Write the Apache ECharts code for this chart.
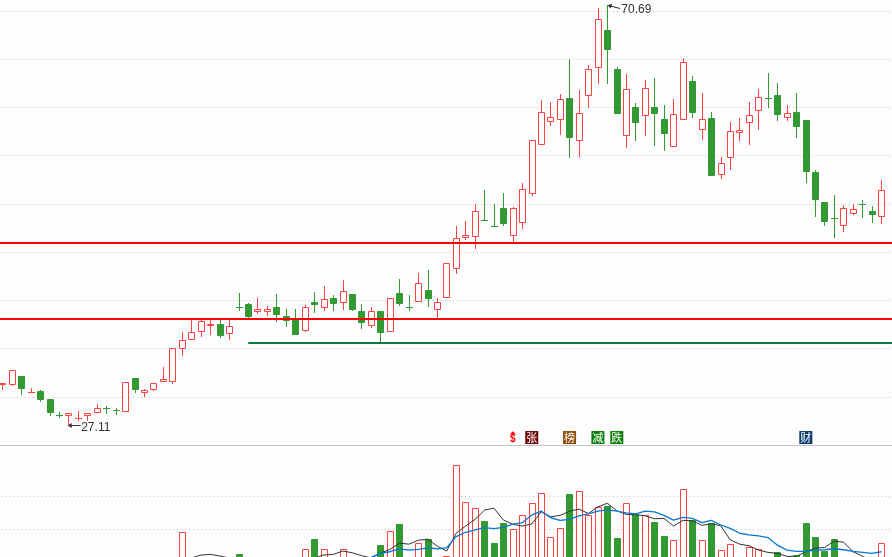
<!DOCTYPE html>
<html>
<head>
<meta charset="utf-8">
<title>K线</title>
<script src="https://cdn.jsdelivr.net/npm/echarts@6/dist/echarts.min.js"></script>
<style>
html,body{margin:0;padding:0;background:#fdfdfd;overflow:hidden}
#chart{width:892px;height:557px}
</style>
</head>
<body>
<div id="chart"></div>
<script>
// Daily prices, oldest first
const opens = [31.26,31.33,32.23,30.52,30.67,29.84,28.20,28.05,27.83,28.05,
28.36,28.89,28.71,28.47,32.02,30.5,30.81,31.58,31.58,35,
35.93,36.76,37.38,37.59,36.55,39.36,39.69,38.83,38.83,39.35,
38.45,38.13,36.92,39.9,39.24,40.31,39.76,40.73,38.96,37.41,
38.96,36.82,40.83,39.36,39.93,41.14,39.1,40.28,43.35,46.58,
46.6,48.37,47.81,49.64,46.71,48.05,51.06,56.14,58.52,58.73,
61.04,56.55,61.21,64.11,68.08,64.04,57.13,60.1,59.2,60.1,
58.86,55.99,58.79,62.8,57.75,58.96,53.09,54.85,57.44,58.48,
59.72,61.01,61.35,59,59.59,58.76,53.37,50.26,48.58,47.8,
49.05,50.03,49.33,48.74];
const closes = [31.47,32.82,30.91,30.54,29.77,28.42,28.18,28.36,27.85,28.36,
28.88,28.87,28.69,31.58,30.78,30.75,31.47,31.89,35.1,35.93,
36.76,37.9,37.59,36.4,37.38,39.34,38.37,39.14,39.14,38.58,
37.96,36.51,39.35,39.59,40.18,39.69,41,39.07,37.72,38.93,
36.68,40.28,39.69,39.34,41.83,40.21,39.87,43.91,46.5,46.81,
49.3,48.35,47.79,48.01,49.61,51.58,56.65,59.55,59.04,60.9,
56.92,59.45,64.01,69.19,66.01,59.38,61.94,58.45,62.04,59.38,
57.31,59.35,64.74,59.48,58.83,52.95,54.27,57.59,57.69,59.24,
61.11,60.99,59.28,59.45,58.03,53.37,50.47,48.19,48.56,49.61,
49.5,50.01,48.91,51.47];
const lows = [30.78,31.19,30.26,30.52,29.56,28.11,27.91,27.11,27.56,27.6,
28.36,28.29,28.22,28.47,30.47,30.05,30.7,31.58,31.4,34.3,
35.93,36.3,36.51,36.2,35.99,39,38.24,38.68,38.48,37.86,
37.34,36.51,36.82,38.76,39,38.96,39.07,38.96,37.1,37.2,
35.68,36.82,39.48,38.96,39.93,39.38,38.17,40.28,42.8,46.32,
45.39,48.35,47.67,47.77,46.01,47.43,50.91,56.14,58.13,57.2,
54.82,54.95,60,62.49,62.49,59.38,55.86,56.58,57.1,56.06,
55.54,55.99,58.79,58.96,56.68,52.95,52.64,53.58,56.58,56.17,
57.72,60,58.65,58.65,56.89,52.23,48.71,47.77,46.53,47.15,
48.91,48.6,48.08,47.98];
const highs = [31.47,32.82,32.23,31.02,30.78,29.84,28.5,28.36,28.6,28.36,
29.33,29.09,28.94,31.58,32.02,30.88,31.47,33.16,35.1,36.79,
38.13,38.13,38.13,38.03,38.13,40.8,39.79,40.31,39.48,40.69,
39.14,39.17,39.55,40.93,41.55,40.62,42.18,40.73,39.69,39.38,
38.96,40.28,42.28,40.62,42.9,43.21,40.28,43.91,47.77,48.29,
50.05,51.5,50.05,51.19,49.71,52.23,56.65,60.83,60.62,61.45,
65.08,61.87,64.46,70.36,70.69,64.25,63.52,60.52,62.9,63.11,
60.31,60.93,65.15,63.32,61.56,59.59,54.92,58.55,58.96,60.62,
61.97,63.63,62.59,60.31,61.56,58.76,53.58,50.26,50.98,49.95,
50.05,50.47,49.85,52.54];

// Daily volume and its two moving averages
const volumes = [14,16,15,9,13,14,8,9,7,9,
10,8,7,19,18,12,13,13,20,29.1,
17,15,14,16,15,22.5,19,13,10,16,
17,20,23.9,27.1,23.9,20,23.9,19,20,19,
25.2,29.4,31.6,14,25.8,27.1,15,21.8,49.4,38.2,
36.4,32.5,25.8,31.9,30,34.2,37.9,40.9,27.6,30.3,
40.7,41.5,34.2,36.7,37.1,27.4,37.9,34.5,34.2,32.2,
28,26.7,42.1,32.8,26.7,31.8,23.6,25.5,17,24.5,
23.9,18,23,15,22.1,31.9,27.7,23.5,27.1,20,
13,12,14,25.8];
const volMa5 = [13,14,14,13,13,13,12,11,11,11,
10,10,10,12,13,13,14,16,17,19,
21.3,22.2,22.4,21.9,21.3,20.5,20,19.5,19,18.5,
19,20,20.8,21.3,22.2,22.4,23.4,22.9,22,21.3,
22.8,23.9,25.8,25.5,26.7,27,24.9,23.4,28.8,31,
33,35.8,36.4,32.8,31.5,31,31.6,35.3,33.8,34.2,
35.5,36.1,34.8,36.8,37.9,35.6,34.5,34.4,34.1,33.2,
33.3,31,32.7,32.6,31.2,31.7,31.1,26.8,25.5,25,
23.7,23,22.7,21.8,21.8,23.2,24.3,24.5,26.4,26.1,
23.2,21.8,20.5,20.8];
const volMa10 = [15,15,15,14,14,14,13,13,12,12,
12,12,12,12,12,12,13,13,14,15,
16,17,18,18,19,19,19.5,20,20,20,
20,20,20.5,20.5,21,21,21,21,21,21.5,
22.7,23.2,24.1,23.7,23.9,24.4,24.1,24.4,27.8,29.1,
29.8,30.5,30.2,30.6,31.6,32,34.3,35.5,33.5,32.7,
33,34.1,34.7,35.5,35.9,35.5,35,34.7,35.5,35.3,
34.2,32.8,33.6,33.3,32,32.7,31.3,30.3,28.8,28.3,
28,27.5,25.2,23.7,23.3,23.3,23.7,23.8,24.1,23.8,
23.3,23,22.7,23.2];

// Support and resistance levels, and where the lower support starts
const resistanceLevel = 46.04;
const supportLevel = 38.13;
const lowerSupportLevel = 35.68;
const lowerSupportStart = 26;

// News flags shown along the foot of the price panel
const flagDays = [56, 60, 63, 65, 85];
const flagTexts = ['张', '榜', '减', '跌', '财'];
const flagColors = ['#6e0606', '#8a4a08', '#0a7d0a', '#0a7d0a', '#0c3a70'];
const flagPrice = 25.85;
const dollarDay = 54;

const highDay = 64, lowDay = 7;
const highPrice = 70.69, lowPrice = 27.11;

// Two spare slots keep the right edge of the plot past the last candle
const categories = Array.from({ length: 96 }, (_, i) => String(i + 1));

const RED = '#ff4040', GREEN = '#339933', PAPER = '#fdfdfd';

const textBase = { fontFamily: '"Liberation Sans", Arial, sans-serif', fontSize: 12, color: '#333' };
const anchorDot = { symbol: 'circle', symbolSize: 1, itemStyle: { color: 'rgba(0,0,0,0)' } };
const leaderPath = 'path://M0,2.5 L4,0 L4,2 L13,2 L13,3 L4,3 L4,5 Z';

const flagPoints = flagDays.map((d, i) => ({
  coord: [categories[d], flagPrice],
  symbol: 'rect',
  symbolSize: 13,
  itemStyle: { color: flagColors[i] },
  label: {
    show: true, position: 'inside', formatter: flagTexts[i],
    color: '#fff', fontSize: 11, fontFamily: '"Noto Sans CJK SC", sans-serif'
  }
}));

const extremePoints = [
  {
    coord: [categories[lowDay], lowPrice], symbol: leaderPath, symbolSize: [13, 5], symbolOffset: [5.5, 0],
    itemStyle: { color: '#333' }, label: { show: false }
  },
  {
    coord: [categories[lowDay], lowPrice], ...anchorDot,
    label: { show: true, position: 'right', distance: 0, offset: [12, 2], formatter: lowPrice.toFixed(2), ...textBase }
  },
  {
    coord: [categories[highDay], highPrice], symbol: leaderPath, symbolSize: [13, 5], symbolOffset: ['50%', 2], symbolRotate: -15,
    itemStyle: { color: '#333' }, label: { show: false }
  },
  {
    coord: [categories[highDay], highPrice], ...anchorDot,
    label: { show: true, position: 'right', distance: 0, offset: [13.5, 5], formatter: highPrice.toFixed(2), ...textBase }
  }
];

const dollarPoints = [
  {
    coord: [categories[dollarDay], flagPrice], ...anchorDot,
    label: { show: true, position: 'inside', offset: [0, 2], formatter: '$', color: '#ff0000', fontWeight: 'bold', fontSize: 10, fontFamily: '"Liberation Sans", sans-serif' }
  },
  {
    coord: [categories[dollarDay], flagPrice + 0.5], symbol: 'triangle', symbolSize: [6, 3],
    itemStyle: { color: '#ff0000' }, label: { show: false }
  }
];

// Candle wick and body, with every edge on a whole pixel so the strokes stay crisp
function renderCandle(params, api) {
  const day = api.value(0);
  const open = api.value(1), close = api.value(2);
  const cx = Math.floor(api.coord([day, open])[0] + 0.25);
  const row = (price) => Math.round(api.coord([day, price])[1]);
  const rising = close >= open;
  const edge = rising ? RED : GREEN;
  const top = row(Math.max(open, close));
  const bottom = row(Math.min(open, close));
  const children = [{
    type: 'line',
    shape: { x1: cx + 0.5, y1: row(api.value(4)), x2: cx + 0.5, y2: row(api.value(3)) },
    style: { stroke: edge, lineWidth: 1 }
  }];
  if (bottom - top < 2) {
    // Open and close on the same row: a plain tick across the wick
    children.push({
      type: 'line',
      shape: { x1: cx - 3, y1: top + 0.5, x2: cx + 4, y2: top + 0.5 },
      style: { stroke: edge, lineWidth: 1 }
    });
  } else {
    children.push({
      type: 'rect',
      shape: { x: cx - 2.5, y: top + 0.5, width: 6, height: bottom - top - 1 },
      style: { fill: rising ? PAPER : GREEN, stroke: edge, lineWidth: 1 }
    });
  }
  return { type: 'group', children };
}

// Hollow rising and solid falling volume columns, snapped to whole pixels
function renderVolume(params, api) {
  const day = api.value(0);
  const top = api.coord([day, api.value(1)]);
  const base = api.coord([day, 0]);
  const cx = Math.floor(top[0] + 0.25);
  const y = Math.round(top[1]) + 0.5;
  const rising = closes[day] >= opens[day];
  return {
    type: 'rect',
    shape: { x: cx - 2.5, y, width: 6, height: base[1] - y },
    style: { fill: rising ? PAPER : GREEN, stroke: rising ? RED : GREEN, lineWidth: 1 }
  };
}

const dotted = { color: '#c4c4c4', type: [1, 3], width: 1, dashOffset: 0.825 };
const hidden = { axisLine: { show: false }, axisTick: { show: false }, axisLabel: { show: false } };

const chart = echarts.init(document.getElementById('chart'), null, { renderer: 'canvas' });
chart.setOption({
  animation: false,
  backgroundColor: PAPER,
  grid: [
    { left: -2.175, top: 0, width: 907.2, height: 445.15, outerBoundsMode: 'none' },
    { left: -2.175, top: 463.3, width: 907.2, height: 165, outerBoundsMode: 'none' }
  ],
  xAxis: [
    {
      type: 'category', gridIndex: 0, data: categories,
      axisTick: { show: false }, axisLabel: { show: false },
      axisLine: { show: true, onZero: false, lineStyle: { color: '#c4c4c4', width: 1 } },
      splitLine: { show: false }
    },
    { type: 'category', gridIndex: 1, data: categories, ...hidden, splitLine: { show: false } }
  ],
  yAxis: [
    // Price scale used by the candles
    { type: 'value', gridIndex: 0, min: 25.062, max: 71.192, ...hidden, splitLine: { show: false } },
    // Round-price gridlines
    {
      type: 'value', gridIndex: 0, min: 25, max: 71.13, interval: 5, ...hidden,
      splitLine: { show: true, showMinLine: false, showMaxLine: false, lineStyle: dotted }
    },
    {
      type: 'value', gridIndex: 1, min: 0, max: 50, interval: 10, ...hidden,
      splitLine: { show: true, showMinLine: false, showMaxLine: false, lineStyle: dotted }
    }
  ],
  series: [
    {
      name: '日K',
      type: 'custom',
      xAxisIndex: 0, yAxisIndex: 0,
      renderItem: renderCandle,
      encode: { x: 0, y: [1, 2, 3, 4] },
      data: opens.map((o, i) => [i, o, closes[i], lows[i], highs[i]]),
      markLine: {
        silent: true, symbol: 'none', z: 6, animation: false,
        label: { show: false },
        data: [
          { yAxis: resistanceLevel, lineStyle: { color: '#ff0000', width: 2, type: 'solid' } },
          { yAxis: supportLevel, lineStyle: { color: '#ff0000', width: 2, type: 'solid' } },
          [
            { coord: [categories[lowerSupportStart], lowerSupportLevel], lineStyle: { color: '#0b7a3e', width: 2, type: 'solid' } },
            { coord: [categories[95], lowerSupportLevel] }
          ]
        ]
      },
      markPoint: {
        silent: true, animation: false, z: 7,
        data: [...flagPoints, ...extremePoints, ...dollarPoints]
      }
    },
    {
      name: '成交量',
      type: 'custom',
      xAxisIndex: 1, yAxisIndex: 2,
      renderItem: renderVolume,
      encode: { x: 0, y: 1 },
      data: volumes.map((v, i) => [i, v])
    },
    {
      name: 'MA5', type: 'line', xAxisIndex: 1, yAxisIndex: 2, data: volMa5,
      symbol: 'none', z: 5, lineStyle: { color: '#333333', width: 1 }
    },
    {
      name: 'MA10', type: 'line', xAxisIndex: 1, yAxisIndex: 2, data: volMa10,
      symbol: 'none', z: 6, lineStyle: { color: '#0a78d2', width: 1.3 }
    }
  ]
});
</script>
</body>
</html>
